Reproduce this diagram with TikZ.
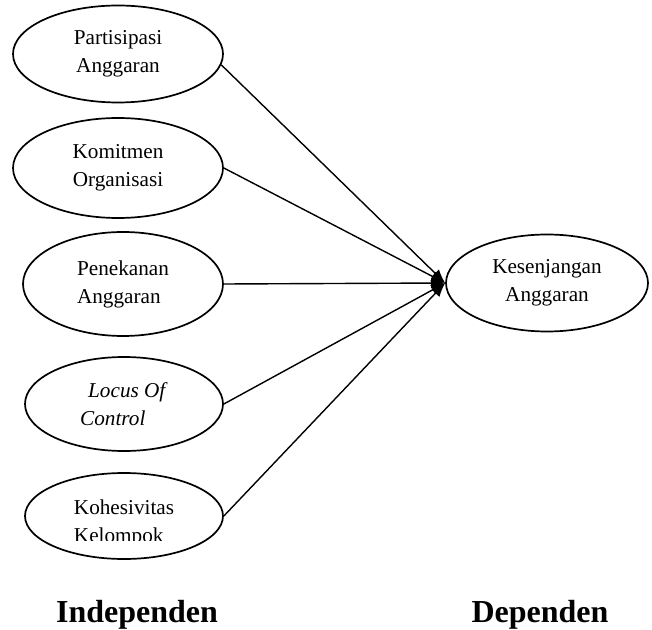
\documentclass[tikz,border=0pt]{standalone}
\usepackage{fontspec}
\setmainfont{Liberation Serif}
\usetikzlibrary{shapes.geometric,arrows.meta}

\begin{document}
\begin{tikzpicture}[x=0.5pt,y=-0.5pt,
        var/.style={draw,ellipse,line width=0.85pt,inner sep=0pt,font=\fontsize{10.6}{14}\selectfont},
        panah/.style={-{Latex[length=7pt,width=5.5pt]},line width=0.7pt}]
        \useasboundingbox(0,0)rectangle(652,630);
        \node[var,align=center,minimum width=105pt,minimum height=48.5pt](p1)at(118,54){Partisipasi\\Anggaran};
        \node[var,align=center,minimum width=105pt,minimum height=50pt](p2)at(118,168){Komitmen\\Organisasi};
        \node[var,align=left,minimum width=100pt,minimum height=52pt](p3)at(123,284){Penekanan\\Anggaran};
        \node[var,align=left,minimum width=99pt,minimum height=47pt](p4)at(124,404){\hspace*{4pt}\textit{Locus Of}\\\textit{Control}};
        \node[var,minimum width=99pt,minimum height=43pt](p5)at(124,516){};
        \begin{scope}
            \clip(0,0)rectangle(652,540);
            \node[font=\fontsize{10.6}{14}\selectfont,align=left,inner sep=0pt](p5t)at(124,523){Kohesivitas\\Kelompok};
        \end{scope}
        \node[var,align=center,minimum width=101pt,minimum height=48.5pt](kes)at(547,283){Kesenjangan\\Anggaran};
        \coordinate(ujung)at(kes.west);
        \draw[panah](p1.-6)--(ujung);
        \draw[panah](p2.east)--(ujung);
        \draw[panah](p3.east)--(ujung);
        \draw[panah](p4.east)--(ujung);
        \draw[panah](p5.east)--(ujung);
        \node[anchor=base,font=\bfseries\fontsize{16}{19}\selectfont](ind)at(137,622){Independen};
        \node[anchor=base,font=\bfseries\fontsize{16}{19}\selectfont](dep)at(540,622){Dependen};
    \end{tikzpicture}
\end{document}
